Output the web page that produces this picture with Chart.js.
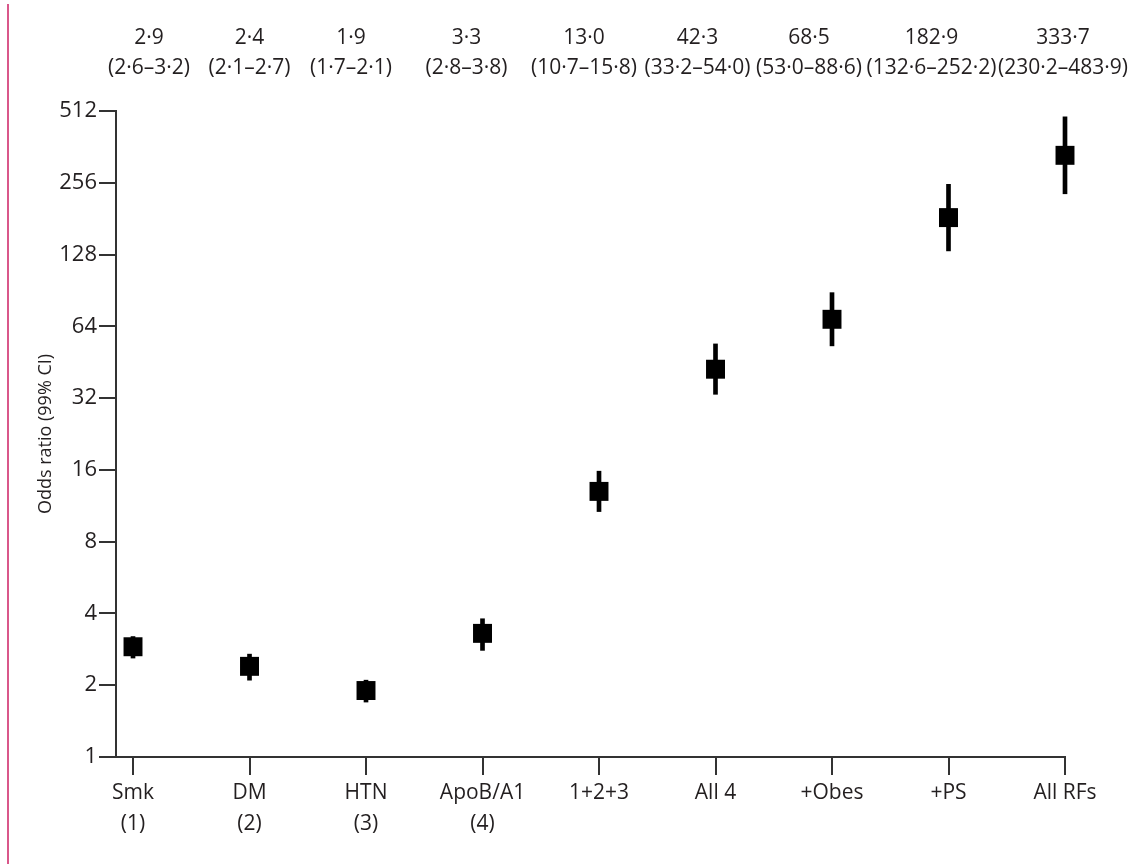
<!DOCTYPE html>
<html>
<head>
<meta charset="utf-8">
<script src="https://cdn.jsdelivr.net/npm/chart.js@4.4.0/dist/chart.umd.min.js"></script>
<style>
  html, body { margin: 0; padding: 0; background: #fff; }
  #wrap { position: relative; width: 1144px; height: 864px; }
</style>
</head>
<body>
<div id="wrap"><canvas id="chart"></canvas></div>
<script>
// categorias y valores (odds ratio + IC 99%)
const categorias = [['Smk', '(1)'], ['DM', '(2)'], ['HTN', '(3)'], ['ApoB/A1', '(4)'], '1+2+3', 'All 4', '+Obes', '+PS', 'All RFs'];
const oddsRatio = [2.9, 2.4, 1.9, 3.3, 13.0, 42.3, 68.5, 182.9, 333.7];
const icBajo = [2.6, 2.1, 1.7, 2.8, 10.7, 33.2, 53.0, 132.6, 230.2];
const icAlto = [3.2, 2.7, 2.1, 3.8, 15.8, 54.0, 88.6, 252.2, 483.9];
const ticksY = [1, 2, 4, 8, 16, 32, 64, 128, 256, 512];

// desplazamiento (px) de las etiquetas de arriba respecto a cada tick
const despEtiquetas = [16, 0, -15, -16, -15, -18, -23, -17, -2];

const TEXTO = '#231f20';
const FUENTE = "'Open Sans', 'Noto Sans', sans-serif";

// formato con punto medio como separador decimal
const fmt = v => v.toFixed(1).replace('.', '\u00b7');

// etiquetas de arriba + linea rosa de la izquierda
const extras = {
  id: 'extras',
  afterDraw(chart) {
    const ctx = chart.ctx;
    const x = chart.scales.x;
    ctx.save();
    ctx.strokeStyle = '#d9578a';
    ctx.lineWidth = 2;
    ctx.beginPath();
    ctx.moveTo(8, 4);
    ctx.lineTo(8, 864);
    ctx.stroke();

    ctx.fillStyle = TEXTO;
    ctx.font = '21px ' + FUENTE;
    ctx.textAlign = 'center';
    ctx.textBaseline = 'middle';
    oddsRatio.forEach((v, i) => {
      const px = x.getPixelForValue(i) + despEtiquetas[i];
      ctx.fillText(fmt(v), px, 38);
      ctx.fillText('(' + fmt(icBajo[i]) + '\u2013' + fmt(icAlto[i]) + ')', px, 68);
    });
    ctx.restore();
  }
};

const ctx = document.getElementById('chart').getContext('2d');
new Chart(ctx, {
  type: 'scatter',
  data: {
    datasets: [
      {
        type: 'scatter',
        data: oddsRatio.map((v, i) => ({ x: i, y: v })),
        pointStyle: 'rect',
        pointRadius: 13.4,
        pointHoverRadius: 13.4,
        backgroundColor: '#000',
        borderWidth: 0,
        clip: false
      },
      {
        type: 'bar',
        data: icBajo.map((v, i) => ({ x: i, y: [v, icAlto[i]] })),
        backgroundColor: '#000',
        barThickness: 4,
        borderWidth: 0,
        clip: false
      }
    ]
  },
  options: {
    responsive: true,
    maintainAspectRatio: false,
    animation: false,
    layout: { padding: { left: 0, right: 79, top: 111, bottom: 0 } },
    plugins: { legend: { display: false }, tooltip: { enabled: false } },
    scales: {
      x: {
        type: 'linear',
        min: -0.146,
        max: 8,
        offset: false,
        afterBuildTicks: s => { s.ticks = categorias.map((_, i) => ({ value: i })); },
        afterFit: s => { s.height = 107; },
        ticks: {
          callback: (v) => categorias[v],
          color: TEXTO,
          font: { size: 21, family: FUENTE, lineHeight: 1.5 },
          padding: 2,
          maxRotation: 0,
          autoSkip: false
        },
        grid: { display: true, drawOnChartArea: false, drawTicks: true, tickLength: 18, color: '#333', lineWidth: 2, offset: false },
        border: { display: true, color: '#333', width: 2 }
      },
      y: {
        type: 'logarithmic',
        min: 1,
        max: 512,
        afterBuildTicks: s => { s.ticks = ticksY.map(v => ({ value: v })); },
        afterFit: s => { s.width = 116; },
        ticks: {
          callback: v => String(v),
          color: TEXTO,
          font: { size: 22, family: FUENTE },
          padding: 2
        },
        grid: { display: true, drawOnChartArea: false, drawTicks: true, tickLength: 17, color: '#333', lineWidth: 2 },
        border: { display: true, color: '#333', width: 2 },
        title: {
          display: true,
          text: 'Odds ratio (99% CI)',
          color: TEXTO,
          font: { size: 18, family: FUENTE },
          padding: { top: 35, bottom: 0 }
        }
      }
    }
  },
  plugins: [extras]
});
</script>
</body>
</html>
